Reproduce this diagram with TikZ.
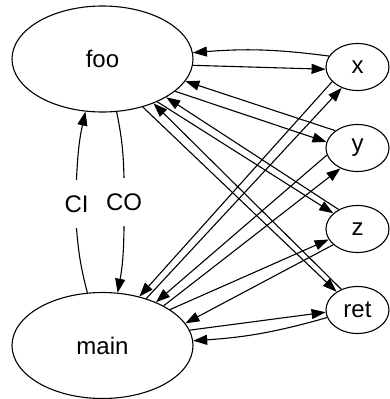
\documentclass[tikz,border=0pt]{standalone}
\usepackage{fontspec}
\setmainfont{Liberation Sans}
\usetikzlibrary{shapes.geometric,arrows.meta}
\begin{document}
\begin{tikzpicture}[x=1pt,y=-1pt,
  every node/.style={font=\fontsize{24}{27}\selectfont},
  big/.style={ellipse,draw,line width=1.1pt,inner sep=0pt,minimum width=181pt,minimum height=106pt},
  small/.style={ellipse,draw,line width=1.1pt,inner sep=0pt,minimum width=63pt,minimum height=47pt},
  lab/.style={inner sep=0pt,minimum height=48pt},
  edge/.style={line width=1.1pt,-{Triangle[length=14pt,width=10pt]}},
  plain/.style={line width=1.1pt}]
\useasboundingbox (0,0) rectangle (390,399);
\node[big] (foo) at (102.5,59) {foo};
\node[big] (main) at (102.5,345.5) {main};
\node[small] (x) at (357.5,67) {x};
\node[small] (y) at (357.5,148) {y};
\node[small] (z) at (357.5,229) {z};
\node[small] (ret) at (357.5,310) {ret};
\node[lab] (ci) at (76.5,204) {CI};
\node[lab] (co) at (124,202) {CO};
\draw[edge] (x.159) to[bend right=6] (foo.4);
\draw[edge] (foo.-4) -- (x.184);
\draw[edge] (y.142) -- (foo.-15);
\draw[edge] (foo.-24.5) -- (y.169);
\draw[edge] (z.134) -- (foo.-31);
\draw[edge] (foo.-38) -- (z.147);
\draw[edge] (ret.128) -- (foo.-41);
\draw[edge] (foo.-50) -- (ret.139);
\draw[edge] (x.210) -- (main.53);
\draw[edge] (main.47) -- (x.233);
\draw[edge] (y.193) -- (main.39);
\draw[edge] (main.33) -- (y.230);
\draw[edge] (z.213) -- (main.15);
\draw[edge] (main.28) -- (z.200);
\draw[edge] (main.10) -- (ret.184);
\draw[edge] (ret.194) to[bend left=6] (main.3);
\draw[plain] (main.106) to[bend left=5] (ci.south);
\draw[edge] (ci.north) to[bend left=5] (foo.-108);
\draw[plain] (foo.-75) to[bend left=5] (co.north);
\draw[edge] (co.south) to[bend left=5] (main.74);
\end{tikzpicture}
\end{document}
